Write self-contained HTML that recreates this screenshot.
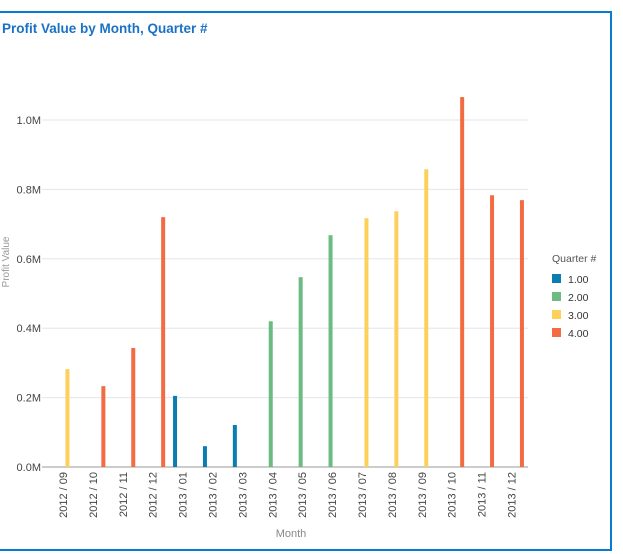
<!DOCTYPE html>
<html><head><meta charset="utf-8"><style>
body{margin:0;background:#fff;width:623px;height:554px;overflow:hidden;font-family:"Liberation Sans",sans-serif}
#frame{position:absolute;left:0;top:11px;width:610px;height:536px;border:2px solid #0a7cd0;border-left:none}
#title{position:absolute;left:2px;top:21px;font-size:13.5px;font-weight:bold;color:#1a72c6}
</style></head><body>
<div id="frame"></div>
<div id="title">Profit Value by Month, Quarter #</div>
<svg id="chart" width="623" height="554" style="position:absolute;left:0;top:0"></svg>
<script>
const categories=["2012 / 09","2012 / 10","2012 / 11","2012 / 12","2013 / 01","2013 / 02","2013 / 03","2013 / 04","2013 / 05","2013 / 06","2013 / 07","2013 / 08","2013 / 09","2013 / 10","2013 / 11","2013 / 12"];
const quarters=[3,4,4,4,1,1,1,2,2,2,3,3,3,4,4,4];
const values=[0.282,0.233,0.343,0.72,0.205,0.06,0.121,0.42,0.547,0.668,0.717,0.737,0.858,1.066,0.783,0.769];
const yTicks=[0,0.2,0.4,0.6,0.8,1.0];
const seriesNames=["1.00","2.00","3.00","4.00"];
const seriesColors=["#0b7db3","#6bbb83","#fdcf5b","#f26b43"];

const svg=document.getElementById('chart');
const NS='http://www.w3.org/2000/svg';
function mk(t,a,txt){const e=document.createElementNS(NS,t);for(const k in a)e.setAttribute(k,a[k]);if(txt!=null)e.textContent=txt;svg.appendChild(e);return e;}
const x0=48,x1=526.4,yBase=467,yTop1M=120;
const slot=(x1-x0)/categories.length;
const y=v=>yBase-(yBase-yTop1M)*v/1.0;
const xc=i=>x0+slot*(i+0.5);
yTicks.forEach(t=>{
  const g=mk('line',{x1:x0-6,x2:528,y1:y(t),y2:y(t),stroke:t===0?'#999':'#e3e6ea','stroke-width':1});
  
  
  const l=mk('text',{x:41,y:y(t)+4,'text-anchor':'end','font-size':11,fill:'#444'},t.toFixed(1)+'M');
  
  
});
categories.forEach((c,i)=>{
  const q=quarters[i]-1;
  const bx=xc(i)-7.5+q*6-2;
  const b=mk('rect',{x:bx,y:y(values[i]),width:4,height:yBase-y(values[i]),fill:seriesColors[q]});
  
  
  const t=mk('text',{transform:`translate(${xc(i)+4},${472}) rotate(-90)`,'text-anchor':'end','font-size':11,fill:'#444'},c);
  
  
});
const xt=mk('text',{x:291,y:537,'text-anchor':'middle','font-size':11,fill:'#888'},'Month');


const yt=mk('text',{transform:'translate(9,262) rotate(-90)','text-anchor':'middle','font-size':10,fill:'#999'},'Profit Value');


const lt=mk('text',{x:552,y:262,'font-size':10.5,fill:'#555'},'Quarter #');


seriesNames.forEach((s,i)=>{
  const r=mk('rect',{x:552,y:274+i*18,width:9,height:9,fill:seriesColors[i]});
  
  
  const t=mk('text',{x:568,y:283+i*18,'font-size':10.5,fill:'#333'},s);
  
  
});
</script>
</body></html>
